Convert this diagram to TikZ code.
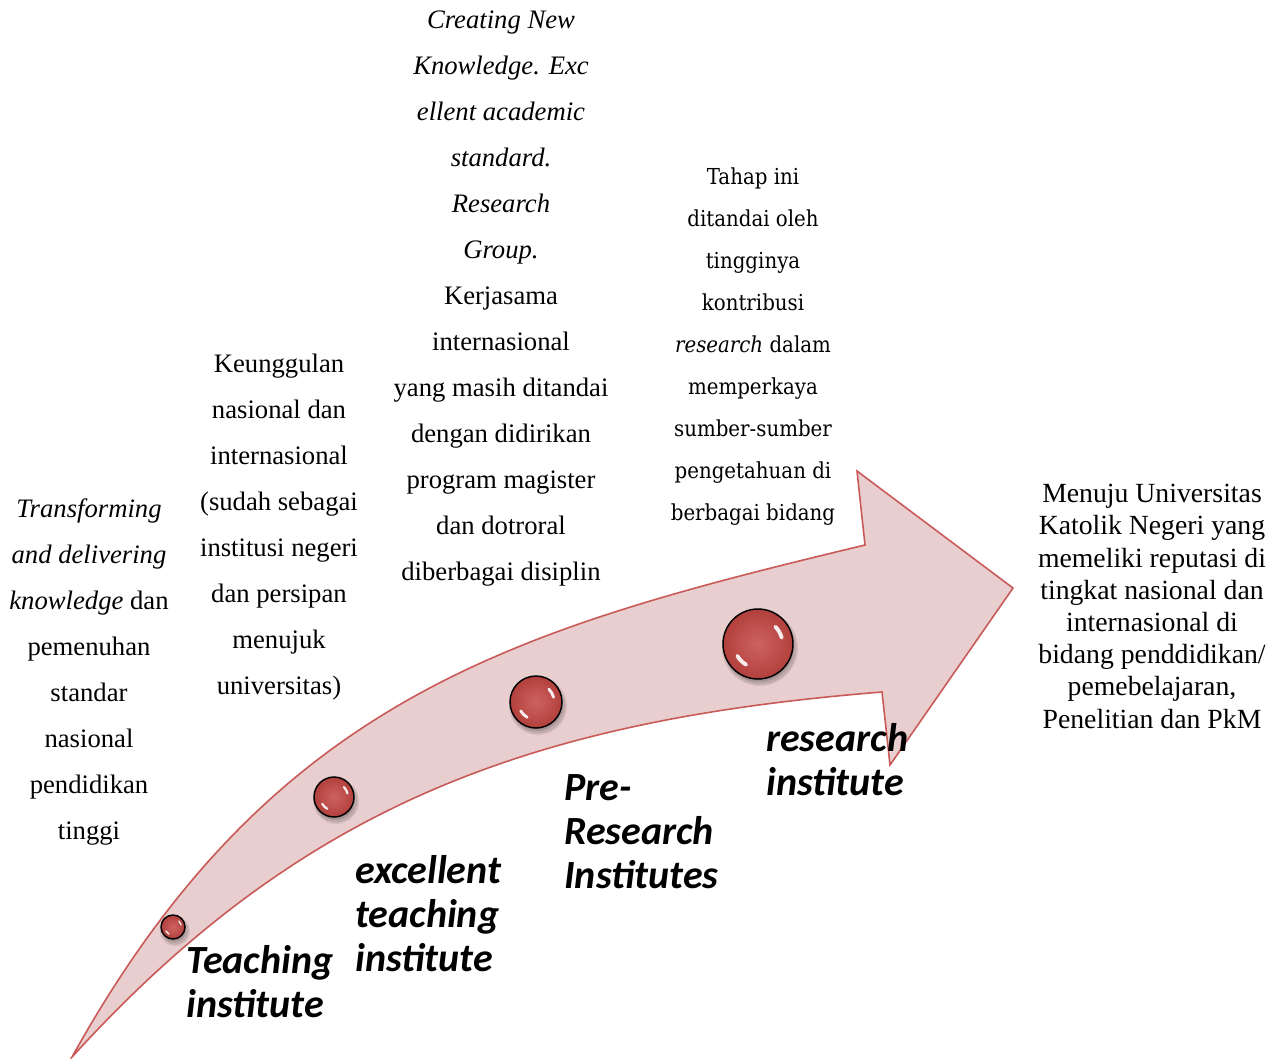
\documentclass[tikz,border=0pt]{standalone}
\usepackage{fontspec}
\setmainfont{Liberation Serif}
\newfontfamily\lblfont{Carlito}
\newfontfamily\cambria[FakeStretch=0.9]{DejaVu Serif}
\definecolor{bandfill}{RGB}{232,206,207}
\definecolor{bandline}{RGB}{200,90,88}
\definecolor{ballin}{RGB}{205,98,95}
\definecolor{ballout}{RGB}{178,64,61}
\newcommand\hlball[2]{%
  \draw[white, line width=0.11*#2*0.75pt, line cap=round, opacity=.9]
    ([shift={(150:0.68*#2)}]#1.center) arc[start angle=150, end angle=120, radius=0.68*#2];
  \draw[white, line width=0.11*#2*0.75pt, line cap=round, opacity=.9]
    ([shift={(-15:0.7*#2)}]#1.center) arc[start angle=-15, end angle=-45, radius=0.7*#2];
}
\newcommand\shadowball[3]{%
  \fill[black, opacity=.08] (#1+2,#2+4) circle[radius=#3+3];
  \fill[black, opacity=.10] (#1+2,#2+4) circle[radius=#3+1.5];
  \fill[black, opacity=.12] (#1+1,#2+3) circle[radius=#3];
}
\begin{document}
\begin{tikzpicture}[x=0.75pt, y=-0.75pt,
  body/.style={font=\fontsize{20}{34.5}\selectfont, align=center, inner sep=0pt, anchor=base},
  camb/.style={font=\cambria\fontsize{16.5}{31.5}\selectfont, align=center, inner sep=0pt, anchor=base},
  goal/.style={font=\fontsize{20.8}{24.15}\selectfont, align=center, inner sep=0pt, anchor=base},
  lbl/.style={font=\lblfont\bfseries\itshape\fontsize{30}{33}\selectfont, align=left, inner sep=0pt, anchor=base west},
  ball/.style={circle, draw=black, line width=1.1pt, shading=radial, inner color=ballin, outer color=ballout, inner sep=0pt}
]
\useasboundingbox (0,0) rectangle (1277,1058);

% big curved arrow
\coordinate (tail) at (72,1057);
\coordinate (nu) at (865,545);
\coordinate (hu) at (857,471);
\coordinate (tip) at (1013,588);
\coordinate (hl) at (890,765);
\coordinate (nl) at (882,692);
\filldraw[fill=bandfill, draw=bandline, line width=1.2pt, line join=miter]
  (tail) .. controls (272,697) and (515,629) .. (nu)
  -- (hu) -- (tip) -- (hl) -- (nl)
  .. controls (532,720) and (302,804) .. (tail) -- cycle;

% spheres
\shadowball{173}{927}{12}
\shadowball{334}{797}{20}
\shadowball{536}{702}{26}
\shadowball{758}{644}{35}
\node[ball, minimum size=18pt] (b1) at (173,927) {};
\node[ball, minimum size=30pt] (b2) at (334,797) {};
\node[ball, minimum size=39pt] (b3) at (536,702) {};
\node[ball, minimum size=52.5pt] (b4) at (758,644) {};
\hlball{b1}{12}
\hlball{b2}{20}
\hlball{b3}{26}
\hlball{b4}{35}

% stage labels (anchor = baseline of last line)
\node[lbl] (l1) at (186,1017) {Teaching\\institute};
\node[lbl] (l2) at (355,971) {excellent\\teaching\\institute};
\node[lbl] (l3) at (564,888) {Pre-\\Research\\Institutes};
\node[lbl] (l4) at (766,795) {research\\institute};

% descriptions (anchor = baseline of last line)
\node[body] (d1) at (89,839) {\textit{Transforming}\\\textit{and delivering}\\\textit{knowledge} dan\\pemenuhan\\standar\\nasional\\pendidikan\\tinggi};
\node[body] (d2) at (279,694) {Keunggulan\\nasional dan\\internasional\\(sudah sebagai\\institusi negeri\\dan persipan\\menujuk\\universitas)};
\node[body] (d3) at (501,580) {\textit{Creating New}\\\textit{Knowledge. Exc}\\\textit{ellent academic}\\\textit{standard.}\\\textit{Research}\\\textit{Group.}\\Kerjasama\\internasional\\yang masih ditandai\\dengan didirikan\\program magister\\dan dotroral\\diberbagai disiplin};
\node[camb] (d4) at (753,520) {Tahap ini\\ditandai oleh\\tingginya\\kontribusi\\\textit{research} dalam\\memperkaya\\sumber-sumber\\pengetahuan di\\berbagai bidang};
\node[goal] (g) at (1152,728) {Menuju Universitas\\Katolik Negeri yang\\memeliki reputasi di\\tingkat nasional dan\\internasional di\\bidang penddidikan/\\pemebelajaran,\\Penelitian dan PkM};
\end{tikzpicture}
\end{document}
